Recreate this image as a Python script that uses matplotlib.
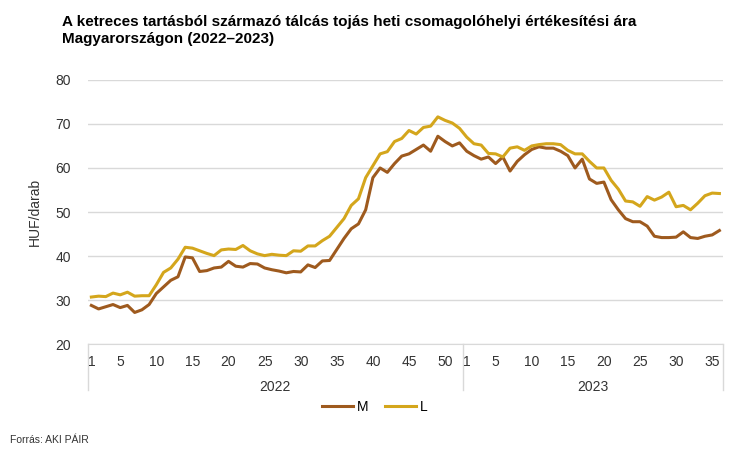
import numpy as np
import matplotlib
matplotlib.use('Agg')
import matplotlib.pyplot as plt
import matplotlib.transforms as mtransforms

plt.rcParams['font.family'] = ['Liberation Sans', 'DejaVu Sans']

# heti adatok: 2022 (52 hét) + 2023 (36 hét)
years = ['2022', '2023']
weeks_per_year = [52, 36]

m_2022 = [28.8, 28.0, 28.5, 29.0, 28.3, 28.8, 27.2, 27.8, 29.0, 31.5,
          33.0, 34.5, 35.3, 39.8, 39.6, 36.5, 36.7, 37.3, 37.5, 38.8,
          37.7, 37.5, 38.3, 38.2, 37.3, 36.9, 36.6, 36.2, 36.5, 36.4,
          38.0, 37.4, 38.9, 39.0, 41.5, 44.0, 46.2, 47.3, 50.5, 57.8,
          60.0, 59.0, 61.0, 62.7, 63.2, 64.2, 65.2, 63.8, 67.2, 66.0,
          65.0, 65.7]
m_2023 = [63.8, 62.8, 62.0, 62.5, 61.0, 62.5, 59.3, 61.5, 63.0, 64.2,
          64.8, 64.5, 64.5, 63.8, 62.8, 60.0, 62.0, 57.5, 56.5, 56.8,
          52.8, 50.5, 48.5, 47.8, 47.8, 46.8, 44.5, 44.2, 44.2, 44.3,
          45.5, 44.2, 44.0, 44.5, 44.8, 45.8]
l_2022 = [30.7, 30.9, 30.8, 31.6, 31.2, 31.8, 30.9, 31.0, 31.0, 33.5,
          36.3, 37.3, 39.3, 42.0, 41.8, 41.2, 40.6, 40.1, 41.4, 41.6,
          41.5, 42.4, 41.2, 40.5, 40.1, 40.4, 40.2, 40.1, 41.2, 41.1,
          42.3, 42.3, 43.5, 44.5, 46.5, 48.5, 51.5, 53.0, 57.8, 60.5,
          63.2, 63.7, 66.0, 66.7, 68.5, 67.7, 69.2, 69.5, 71.6, 70.8,
          70.2, 69.0]
l_2023 = [67.0, 65.5, 65.2, 63.3, 63.2, 62.5, 64.5, 64.8, 64.0, 65.0,
          65.3, 65.5, 65.5, 65.3, 64.0, 63.2, 63.2, 61.5, 60.0, 60.0,
          57.2, 55.2, 52.5, 52.3, 51.3, 53.5, 52.7, 53.4, 54.5, 51.2,
          51.5, 50.5, 52.0, 53.7, 54.3, 54.2]

m_vals = m_2022 + m_2023
l_vals = l_2022 + l_2023
x = np.arange(len(m_vals))

col_m = '#9E5A1E'
col_l = '#D4A61C'

fig = plt.figure(figsize=(7.5, 4.67), dpi=100)
ax = fig.add_axes([0.117, 0.263, 0.847, 0.566])

ax.plot(x, m_vals, color=col_m, lw=2.2, label='M')
ax.plot(x, l_vals, color=col_l, lw=2.2, label='L')

ax.set_xlim(-0.5, len(x) - 0.5)
ax.set_ylim(20, 80)
ax.set_yticks(range(20, 81, 10))
ax.tick_params(axis='y', length=0, labelsize=10, pad=12, colors='#333333')
ax.set_xticks([])
ax.grid(axis='y', color='#d9d9d9', lw=1)
for s in ['top', 'right', 'left']:
    ax.spines[s].set_visible(False)
ax.spines['bottom'].set_color('#d9d9d9')
ax.set_ylabel('HUF/darab', fontsize=10, labelpad=10, color='#333333')

# kategória tengely: hetek és évek
tr = mtransforms.blended_transform_factory(ax.transData, ax.transAxes)
start = 0
for yr, n in zip(years, weeks_per_year):
    ax.plot([start - 0.5, start - 0.5], [0, -0.175], transform=tr,
            color='#d9d9d9', lw=1, clip_on=False)
    for w in [1] + list(range(5, n + 1, 5)):
        ax.text(start + w - 1, -0.04, str(w), transform=tr, ha='center',
                va='top', fontsize=10, color='#333333')
    ax.text(start + (n - 1) / 2, -0.135, yr, transform=tr, ha='center',
            va='top', fontsize=10, color='#333333')
    start += n
ax.plot([start - 0.5, start - 0.5], [0, -0.175], transform=tr,
        color='#d9d9d9', lw=1, clip_on=False)

fig.legend(loc='center', bbox_to_anchor=(0.5, 0.128), ncol=2, frameon=False,
           fontsize=10, handlelength=2.2, handletextpad=0.3, columnspacing=1.2)

fig.text(0.083, 0.968, 'A ketreces tartásból származó tálcás tojás heti csomagolóhelyi értékesítési ára\nMagyarországon (2022–2023)',
         ha='left', va='top', fontsize=11, fontweight='bold', linespacing=1.3)
fig.text(0.013, 0.058, 'Forrás: AKI PÁIR', ha='left', va='center',
         fontsize=7.5, color='#333333')

fig.savefig('out.png', dpi=100)
